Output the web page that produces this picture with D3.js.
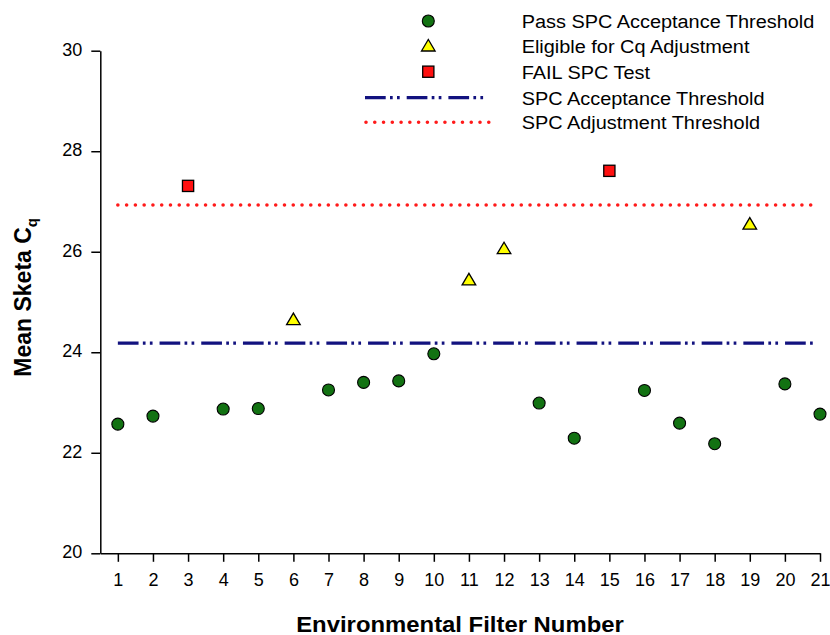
<!DOCTYPE html>
<html>
<head>
<meta charset="utf-8">
<script src="https://cdn.jsdelivr.net/npm/d3@7/dist/d3.min.js"></script>
<style>
  html, body { margin: 0; padding: 0; background: #fff; }
  svg { display: block; font-family: "Liberation Sans", Arial, sans-serif; }
</style>
</head>
<body>
<svg id="chart" width="830" height="635"></svg>
<script>
// ---- data ----
const filters = [1,2,3,4,5,6,7,8,9,10,11,12,13,14,15,16,17,18,19,20,21];
const meanCq  = [22.57,22.73,27.31,22.87,22.88,24.65,23.25,23.40,23.43,23.97,25.44,26.06,22.99,22.29,27.61,23.24,22.59,22.18,26.55,23.37,22.77];
const status  = ["pass","pass","fail","pass","pass","adjust","pass","pass","pass","pass","adjust","adjust","pass","pass","fail","pass","pass","pass","adjust","pass","pass"];
const acceptanceThreshold = 24.18;
const adjustmentThreshold = 26.93;
const thresholdSpan = [1, 20.85];
const yTicks = [20,22,24,26,28,30];
const xTicks = filters;
const legendLabels = ["Pass SPC Acceptance Threshold","Eligible for Cq Adjustment","FAIL SPC Test","SPC Acceptance Threshold","SPC Adjustment Threshold"];
const legendKeys = ["pass","adjust","fail","acceptLine","adjustLine"];

// ---- styles ----
const GREEN = "#127212", YELLOW = "#ffff00", RED = "#ff1010", NAVY = "#12127f", DOTRED = "#ff1a1a";
const blueDash = "20.7,4.3,2.7,4.3,2.7,7";
const redDot = "0,8.77";

const svg = d3.select("#chart");
const x = d3.scaleLinear().domain([0.5, 21]).range([100.3, 820]);
const y = d3.scaleLinear().domain([20, 30]).range([553.3, 50.7]);

// axes
const yAxis = d3.axisLeft(y).tickValues(yTicks).tickSize(9).tickSizeOuter(0).tickPadding(9);
const xAxis = d3.axisBottom(x).tickValues(xTicks).tickSize(8.5).tickSizeOuter(0).tickPadding(11.2);

const gy = svg.append("g").attr("transform", `translate(${x.range()[0]},0)`).call(yAxis);
const gx = svg.append("g").attr("transform", `translate(0,${y.range()[0]})`).call(xAxis);
[gx, gy].forEach(g => {
  g.select(".domain").attr("stroke", "#000").attr("stroke-width", 1.5);
  g.selectAll(".tick line").attr("stroke", "#000").attr("stroke-width", 1.5);
  g.selectAll(".tick text").attr("fill", "#000").style("font-size", "18px").style("font-family", '"Liberation Sans", Arial, sans-serif');
});
gy.selectAll(".tick text").attr("dy", "4.5px");

// threshold lines
svg.append("line")
  .attr("x1", x(thresholdSpan[0])).attr("x2", x(thresholdSpan[1]))
  .attr("y1", y(adjustmentThreshold)).attr("y2", y(adjustmentThreshold))
  .attr("stroke", DOTRED).attr("stroke-width", 3.6).attr("stroke-linecap", "round")
  .attr("stroke-dasharray", redDot);
svg.append("line")
  .attr("x1", x(thresholdSpan[0])).attr("x2", x(thresholdSpan[1]))
  .attr("y1", y(acceptanceThreshold)).attr("y2", y(acceptanceThreshold))
  .attr("stroke", NAVY).attr("stroke-width", 3.2)
  .attr("stroke-dasharray", blueDash);

// marker drawing
function drawMarker(g, kind) {
  if (kind === "pass") {
    g.append("circle").attr("r", 6).attr("fill", GREEN).attr("stroke", "#000").attr("stroke-width", 1.1);
  } else if (kind === "adjust") {
    g.append("path").attr("d", "M-6.8,5 L6.8,5 L0,-6.5 Z").attr("fill", YELLOW).attr("stroke", "#000").attr("stroke-width", 1.3).attr("stroke-linejoin", "miter");
  } else if (kind === "fail") {
    g.append("rect").attr("x", -5.6).attr("y", -5.6).attr("width", 11.2).attr("height", 11.2).attr("fill", RED).attr("stroke", "#000").attr("stroke-width", 1.3);
  }
}

const pts = filters.map((f, i) => ({ f, v: meanCq[i], s: status[i] }));
svg.append("g").selectAll("g.pt").data(pts).join("g")
  .attr("class", "pt")
  .attr("transform", d => `translate(${x(d.f)},${y(d.v)})`)
  .each(function(d) { drawMarker(d3.select(this), d.s); });

// legend
const legend = svg.append("g");
const rowY = [21, 46, 71.7, 97.7, 122.3];
legendKeys.forEach((k, i) => {
  const ry = rowY[i];
  if (k === "acceptLine") {
    legend.append("line").attr("x1", 365).attr("x2", 484).attr("y1", ry).attr("y2", ry)
      .attr("stroke", NAVY).attr("stroke-width", 3.2).attr("stroke-dasharray", blueDash);
  } else if (k === "adjustLine") {
    legend.append("line").attr("x1", 366).attr("x2", 490).attr("y1", ry).attr("y2", ry)
      .attr("stroke", DOTRED).attr("stroke-width", 3.6).attr("stroke-linecap", "round").attr("stroke-dasharray", redDot);
  } else {
    const g = legend.append("g").attr("transform", `translate(428.3,${ry})`);
    drawMarker(g, k);
  }
  const t = legend.append("text").attr("x", 521.7).attr("y", ry + 7)
    .attr("fill", "#000").style("font-size", "18px").text(legendLabels[i]);
  const w = t.node().getComputedTextLength();
  t.attr("textLength", w * 1.105).attr("lengthAdjust", "spacingAndGlyphs");
});

// axis titles
const xt = svg.append("text").attr("x", 460).attr("y", 631.5).attr("text-anchor", "middle")
  .style("font-size", "22px").style("font-weight", "bold").attr("fill", "#000")
  .text("Environmental Filter Number");
xt.attr("textLength", xt.node().getComputedTextLength() * 1.085).attr("lengthAdjust", "spacingAndGlyphs");

const yt = svg.append("text").attr("transform", "translate(30.5,376.7) rotate(-90)")
  .style("font-size", "23px").style("font-weight", "bold").attr("fill", "#000");
yt.append("tspan").text("Mean Sketa C");
yt.append("tspan").attr("dy", 6).style("font-size", "15px").text("q");
</script>
</body>
</html>
